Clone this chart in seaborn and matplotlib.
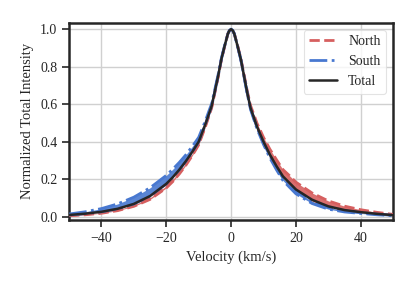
import numpy as np
import pandas as pd
import matplotlib
matplotlib.use("Agg")
import matplotlib.pyplot as plt
import seaborn as sns

velocity = [-50, -45, -40, -35, -30, -25, -20, -18, -16, -14, -12, -10, -9, -8, -7, -6, -5, -4, -3, -2, -1,
            -0.5, 0, 0.5,
            1, 2, 3, 4, 5, 6, 7, 8, 9, 10, 12, 14, 16, 18, 20, 25, 30, 35, 40, 45, 50]

total = [0.009, 0.016, 0.026, 0.042, 0.068, 0.110, 0.175, 0.210, 0.250, 0.295, 0.345, 0.400, 0.445, 0.490,
         0.540, 0.590, 0.670, 0.750, 0.840, 0.910, 0.975,
         0.993, 1.000, 0.993,
         0.975, 0.910, 0.840, 0.750, 0.660, 0.580, 0.530, 0.480, 0.440, 0.400, 0.330, 0.270, 0.215, 0.180,
         0.145, 0.090, 0.055, 0.035, 0.024, 0.015, 0.008]

north_lo = [0.005, 0.010, 0.018, 0.032, 0.055, 0.092, 0.153, 0.187, 0.227, 0.273, 0.325, 0.383, 0.430, 0.476,
            0.528, 0.580, 0.662, 0.744, 0.836, 0.908, 0.975,
            0.993, 1.000, 0.993,
            0.975, 0.910, 0.840, 0.750, 0.660, 0.580, 0.530, 0.480, 0.440, 0.400, 0.330, 0.270, 0.215, 0.180,
            0.145, 0.090, 0.055, 0.035, 0.024, 0.015, 0.008]
north_hi = [0.007, 0.013, 0.022, 0.037, 0.062, 0.101, 0.164, 0.199, 0.239, 0.285, 0.336, 0.392, 0.438, 0.483,
            0.534, 0.585, 0.666, 0.747, 0.838, 0.909, 0.975,
            0.993, 1.000, 0.993,
            0.975, 0.913, 0.845, 0.758, 0.670, 0.593, 0.546, 0.498, 0.461, 0.423, 0.359, 0.304, 0.251, 0.219,
            0.184, 0.126, 0.084, 0.056, 0.037, 0.023, 0.012]

south_lo = [0.009, 0.016, 0.026, 0.042, 0.068, 0.110, 0.175, 0.210, 0.250, 0.295, 0.345, 0.400, 0.445, 0.490,
            0.540, 0.590, 0.670, 0.750, 0.840, 0.910, 0.975,
            0.993, 1.000, 0.993,
            0.975, 0.908, 0.837, 0.745, 0.654, 0.572, 0.520, 0.468, 0.427, 0.385, 0.312, 0.250, 0.193, 0.157,
            0.122, 0.070, 0.040, 0.025, 0.017, 0.010, 0.005]
south_hi = [0.014, 0.026, 0.043, 0.068, 0.104, 0.154, 0.220, 0.253, 0.289, 0.329, 0.374, 0.423, 0.466, 0.508,
            0.556, 0.603, 0.680, 0.758, 0.845, 0.913, 0.975,
            0.993, 1.000, 0.993,
            0.975, 0.909, 0.839, 0.748, 0.658, 0.577, 0.526, 0.475, 0.435, 0.394, 0.323, 0.262, 0.206, 0.171,
            0.136, 0.082, 0.049, 0.031, 0.021, 0.013, 0.007]

series_labels = ["North", "South", "Total"]

sns.set_theme(context="paper", style="ticks")
plt.rcParams["font.family"] = ["Liberation Serif", "DejaVu Serif"]
plt.rcParams["axes.grid"] = True
plt.rcParams["grid.color"] = "#d0d0d0"
plt.rcParams["grid.linewidth"] = 1.0

red = "#d65f5f"
blue = "#4878d0"

df = pd.DataFrame({"v": velocity, "total": total, "nlo": north_lo, "nhi": north_hi,
                   "slo": south_lo, "shi": south_hi})

fig = plt.figure(figsize=(4.16, 2.85), dpi=100)
ax = fig.add_axes([0.166, 0.228, 0.779, 0.692])

ax.fill_between(df["v"], df["nlo"], df["nhi"], color=red, alpha=0.9, lw=0, zorder=2)
ax.fill_between(df["v"], df["slo"], df["shi"], color=blue, alpha=0.9, lw=0, zorder=2)

sns.lineplot(data=df, x="v", y="nlo", ax=ax, color=red, lw=2.0, linestyle="--", label=series_labels[0], zorder=3)
sns.lineplot(data=df, x="v", y="nhi", ax=ax, color=red, lw=2.0, linestyle="--", zorder=3)
sns.lineplot(data=df, x="v", y="slo", ax=ax, color=blue, lw=2.0, linestyle="-.", label=series_labels[1], zorder=3)
sns.lineplot(data=df, x="v", y="shi", ax=ax, color=blue, lw=2.0, linestyle="-.", zorder=3)
sns.lineplot(data=df, x="v", y="total", ax=ax, color="#262626", lw=1.8, label=series_labels[2], zorder=4)

ax.set_xlim(-50, 50)
ax.set_ylim(-0.018, 1.034)
ax.set_xticks([-40, -20, 0, 20, 40])
ax.set_yticks([0.0, 0.2, 0.4, 0.6, 0.8, 1.0])
ax.set_yticklabels(["0.0", "0.2", "0.4", "0.6", "0.8", "1.0"])
ax.set_xticklabels(["\u221240", "\u221220", "0", "20", "40"])
ax.set_xlabel("Velocity (km/s)", fontsize=10.5)
ax.set_ylabel("Normalized Total Intensity", fontsize=10.5)
ax.tick_params(labelsize=10, length=5, width=1.2, colors="#262626")
for s in ax.spines.values():
    s.set_visible(True)
    s.set_linewidth(1.8)
    s.set_color("#262626")

leg = ax.legend(loc="upper right", fontsize=10, frameon=True, handlelength=2.0)
leg.get_frame().set_edgecolor("#dcdcdc")

fig.savefig("out.png", dpi=100)
